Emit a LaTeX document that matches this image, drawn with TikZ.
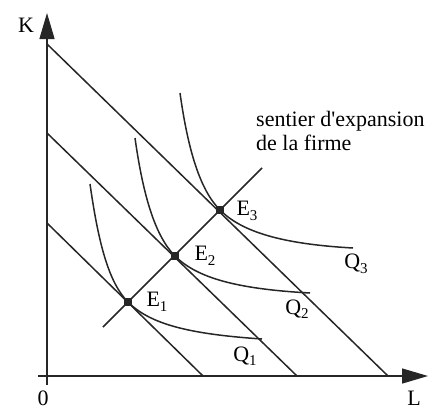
\documentclass[tikz,border=0pt]{standalone}
\usepackage{fontspec}
\setmainfont{Liberation Serif}
\usetikzlibrary{arrows.meta}
\newcommand{\lowsub}[1]{\raisebox{-0.45ex}{\fontsize{15}{15}\selectfont #1}}
\begin{document}
\begin{tikzpicture}[x=1pt,y=-1pt,
  ln/.style={line width=1.5pt,black!85},
  axis/.style={line width=1.4pt,black!85,-{Triangle[length=26pt,width=15pt]}},
  dot/.style={rectangle,fill=black!85,inner sep=0pt,minimum size=8pt},
  lbl/.style={font=\fontsize{22}{24}\selectfont,inner sep=0pt}]
\useasboundingbox (0,0) rectangle (435,410);
% axes
\coordinate (ybot) at (47,385);
\coordinate (ytop) at (47,13);
\coordinate (xleft) at (38,376);
\coordinate (xright) at (428,376);
\draw[axis] (ybot) -- (ytop);
\draw[axis] (xleft) -- (xright);
\node[lbl] (K) at (26,25) {K};
\node[lbl] (O) at (43,398) {0};
\node[lbl] (L) at (414,398) {L};
% budget lines
\coordinate (a1) at (47,223); \coordinate (b1) at (203,376);
\coordinate (a2) at (47,133); \coordinate (b2) at (297,376);
\coordinate (a3) at (47,44);  \coordinate (b3) at (388,376);
\draw[ln] (a1) -- (b1);
\draw[ln] (a2) -- (b2);
\draw[ln] (a3) -- (b3);
% equilibrium points
\coordinate (E1) at (128,302);
\coordinate (E2) at (175,256);
\coordinate (E3) at (220,210);
% expansion path
\coordinate (p0) at (103,327);
\coordinate (p1) at (262,168);
\draw[ln] (p0) -- (p1);
% isoquants
\coordinate (q1s) at (90,184);  \coordinate (q1e) at (262,339);
\coordinate (q2s) at (135,138); \coordinate (q2e) at (310,293);
\coordinate (q3s) at (180,93);  \coordinate (q3e) at (353,248);
\draw[ln] (q1s) .. controls (98,240) and (108,282) .. (E1)
  .. controls (150,324) and (188,334) .. (q1e);
\draw[ln] (q2s) .. controls (143,195) and (155,236) .. (E2)
  .. controls (197,278) and (237,289) .. (q2e);
\draw[ln] (q3s) .. controls (188,150) and (200,190) .. (E3)
  .. controls (242,232) and (282,244) .. (q3e);
\node[dot] (d1) at (E1) {};
\node[dot] (d2) at (E2) {};
\node[dot] (d3) at (E3) {};
% labels
\node[lbl] (lE1) at (157,302) {E\lowsub{1}};
\node[lbl] (lE2) at (205,256) {E\lowsub{2}};
\node[lbl] (lE3) at (247,211) {E\lowsub{3}};
\node[lbl] (lQ1) at (245,356) {Q\lowsub{1}};
\node[lbl] (lQ2) at (297,309) {Q\lowsub{2}};
\node[lbl] (lQ3) at (356,264) {Q\lowsub{3}};
\node[lbl,anchor=base west] (t1) at (256,126) {sentier d\textquotesingle expansion};
\node[lbl,anchor=base west] (t2) at (256,150) {de la firme};
\end{tikzpicture}
\end{document}
